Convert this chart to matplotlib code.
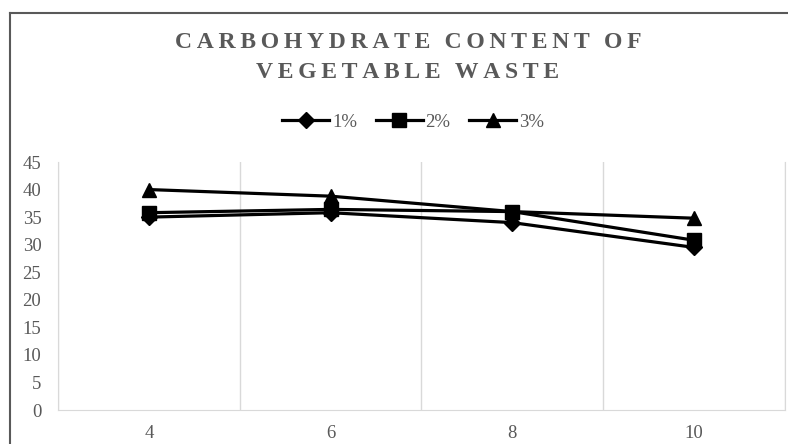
import numpy as np
import matplotlib
matplotlib.use("Agg")
import matplotlib.pyplot as plt
from matplotlib.lines import Line2D

# data
categories = ["4", "6", "8", "10"]
pct1 = [35.0, 35.8, 34.0, 29.5]
pct2 = [35.8, 36.4, 36.0, 30.8]
pct3 = [40.0, 38.8, 36.0, 34.8]
series_names = ["1%", "2%", "3%"]
y_ticks = [0, 5, 10, 15, 20, 25, 30, 35, 40, 45]

grey = "#595959"
grid_c = "#d9d9d9"
plt.rcParams["font.family"] = ["Liberation Serif", "DejaVu Serif"]

fig = plt.figure(figsize=(7.88, 4.44), dpi=100)
ax = fig.add_axes([58/788, 1 - 410/444, (785 - 58)/788, (410 - 162)/444])

x = np.arange(len(categories))
for vals, mk, name in zip([pct1, pct2, pct3], ["D", "s", "^"], series_names):
    ms = 8 if mk == "D" else 9.5
    ax.plot(x, vals, color="black", lw=2.3, marker=mk, ms=ms, label=name)

ax.set_xlim(-0.5, len(categories) - 0.5)
ax.set_ylim(0, 45)
ax.set_yticks(y_ticks)
ax.set_xticks(x)
ax.set_xticklabels(categories)
# vertical gridlines between categories
ax.set_xticks(np.arange(-0.5, len(categories)), minor=True)
ax.grid(True, which="minor", axis="x", color=grid_c, lw=1)
ax.tick_params(which="both", length=0)
ax.tick_params(axis="both", labelsize=13.5, colors=grey)
ax.tick_params(axis="x", pad=11)
ax.tick_params(axis="y", pad=12)
ax.spines["top"].set_visible(False)
for s in ["left", "bottom", "right"]:
    ax.spines[s].set_color(grid_c)

fig.text(408/788, 1 - 42/444, "C A R B O H Y D R A T E   C O N T E N T   O F".replace(" ", "\u2009"),
         ha="center", va="center", fontsize=17, fontweight="bold", color=grey)
fig.text(408/788, 1 - 72/444, "V E G E T A B L E   W A S T E".replace(" ", "\u2009"),
         ha="center", va="center", fontsize=17, fontweight="bold", color=grey)

fig.legend(loc="center", bbox_to_anchor=(413/788, 1 - 122/444), ncol=3, frameon=False,
           fontsize=13.5, labelcolor=grey, handlelength=2.5, handletextpad=0.15,
           columnspacing=1.0)

# chart border (top and left visible)
fig.add_artist(Line2D([10/788, 10/788], [0, 1 - 13/444], color="#595959", lw=1.5))
fig.add_artist(Line2D([10/788, 1], [1 - 13/444, 1 - 13/444], color="#595959", lw=1.5))

fig.savefig("out.png", dpi=100)
